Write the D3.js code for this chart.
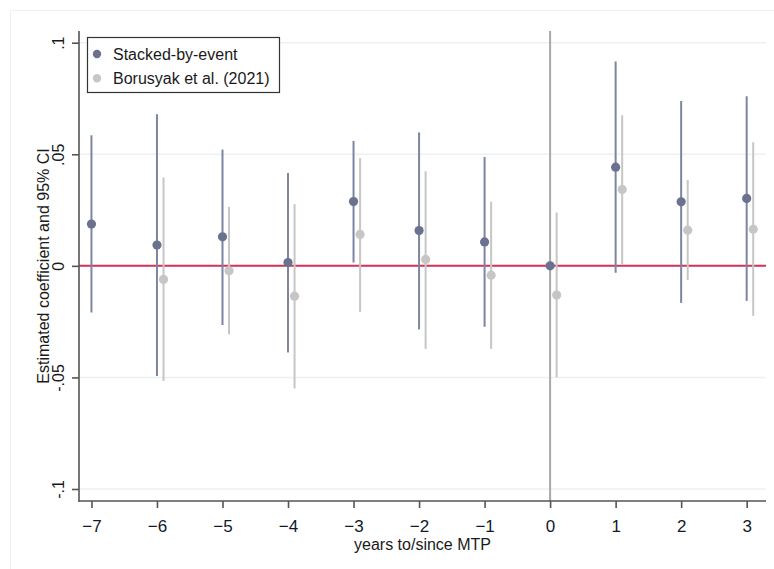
<!DOCTYPE html>
<html>
<head>
<meta charset="utf-8">
<script src="https://cdn.jsdelivr.net/npm/d3@7"></script>
<style>
  html, body { margin: 0; padding: 0; background: #fff; }
  svg { display: block; font-family: "Liberation Sans", Arial, sans-serif; }
</style>
</head>
<body>
<svg id="chart" width="774" height="569"></svg>
<script>
// ---- data ----
const years = [-7, -6, -5, -4, -3, -2, -1, 0, 1, 2, 3];

const stackedCoef = [0.0187, 0.0093, 0.0130, 0.0015, 0.0288, 0.0158, 0.0107, 0.0000, 0.0442, 0.0287, 0.0302];
const stackedLow  = [-0.0209, -0.0494, -0.0265, -0.0388, 0.0015, -0.0285, -0.0273, null, -0.0031, -0.0166, -0.0157];
const stackedHigh = [0.0585, 0.0679, 0.0521, 0.0416, 0.0560, 0.0598, 0.0488, null, 0.0916, 0.0739, 0.0760];

const bjsYears = [-6, -5, -4, -3, -2, -1, 0, 1, 2, 3];
const bjsCoef = [-0.0061, -0.0022, -0.0136, 0.0141, 0.0029, -0.0042, -0.0131, 0.0342, 0.0160, 0.0164];
const bjsLow  = [-0.0516, -0.0307, -0.0549, -0.0206, -0.0372, -0.0372, -0.0500, 0.0006, -0.0064, -0.0224];
const bjsHigh = [0.0396, 0.0264, 0.0276, 0.0483, 0.0424, 0.0288, 0.0239, 0.0675, 0.0385, 0.0554];

const yTicks = [-0.1, -0.05, 0, 0.05, 0.1];
const yTickLabels = ["-.1", "-.05", "0", ".05", ".1"];
const xTicks = years;
const legendLabels = ["Stacked-by-event", "Borusyak et al. (2021)"];
const xTitle = "years to/since MTP";
const yTitle = "Estimated coefficient and 95% CI";

// ---- layout ----
const svg = d3.select("#chart");
const plot = { left: 79, right: 766, top: 31, bottom: 501 };
const x = d3.scaleLinear().domain([-7.19, 3.295]).range([plot.left, plot.right]);
const y = d3.scaleLinear().domain([-0.1, 0.1]).range([489, 42.7]);
const bjsOffset = 0.1;

const colStackLine = "#7d85a1";
const colStackDot = "#6b728f";
const colBjs = "#c6c6c6";

// outer frame
svg.append("rect").attr("x", 10.5).attr("y", 10.5).attr("width", 780).attr("height", 600)
  .attr("fill", "none").attr("stroke", "#eef1f1").attr("stroke-width", 1);

// gridlines
svg.append("g").selectAll("line").data(yTicks.filter(d => d !== 0)).join("line")
  .attr("x1", plot.left).attr("x2", plot.right)
  .attr("y1", d => y(d)).attr("y2", d => y(d))
  .attr("stroke", "#eaf1f1").attr("stroke-width", 1.5);

// vertical reference line at 0
svg.append("line")
  .attr("x1", x(0)).attr("x2", x(0)).attr("y1", plot.top).attr("y2", plot.bottom)
  .attr("stroke", "#a8a8a8").attr("stroke-width", 2);

// horizontal zero line
svg.append("line")
  .attr("x1", plot.left).attr("x2", plot.right).attr("y1", y(0)).attr("y2", y(0))
  .attr("stroke", "#d5305a").attr("stroke-width", 2);

// BJS CIs
const bjs = bjsYears.map((yr, i) => ({ yr, c: bjsCoef[i], lo: bjsLow[i], hi: bjsHigh[i] }));
svg.append("g").selectAll("line").data(bjs).join("line")
  .attr("x1", d => x(d.yr + bjsOffset)).attr("x2", d => x(d.yr + bjsOffset))
  .attr("y1", d => y(d.lo)).attr("y2", d => y(d.hi))
  .attr("stroke", colBjs).attr("stroke-width", 2);

// Stacked CIs
const st = years.map((yr, i) => ({ yr, c: stackedCoef[i], lo: stackedLow[i], hi: stackedHigh[i] }));
svg.append("g").selectAll("line").data(st.filter(d => d.lo !== null)).join("line")
  .attr("x1", d => x(d.yr)).attr("x2", d => x(d.yr))
  .attr("y1", d => y(d.lo)).attr("y2", d => y(d.hi))
  .attr("stroke", colStackLine).attr("stroke-width", 2);

// BJS dots
svg.append("g").selectAll("circle").data(bjs).join("circle")
  .attr("cx", d => x(d.yr + bjsOffset)).attr("cy", d => y(d.c)).attr("r", 4.6)
  .attr("fill", colBjs);

// Stacked dots
svg.append("g").selectAll("circle").data(st).join("circle")
  .attr("cx", d => x(d.yr)).attr("cy", d => y(d.c)).attr("r", 4.6)
  .attr("fill", colStackDot);

// y axis
svg.append("line").attr("x1", plot.left).attr("x2", plot.left)
  .attr("y1", plot.top).attr("y2", plot.bottom + 1)
  .attr("stroke", "#555").attr("stroke-width", 1.6);
const yAxis = d3.axisLeft(y).tickValues(yTicks).tickSize(7).tickFormat((d, i) => yTickLabels[i]);
const yg = svg.append("g").attr("transform", `translate(${plot.left},0)`).call(yAxis);
yg.select(".domain").remove();
yg.selectAll(".tick line").attr("stroke", "#555").attr("stroke-width", 1.6);
yg.selectAll(".tick text")
  .attr("transform", "rotate(-90)")
  .attr("x", 0).attr("y", -15.5).attr("dy", 0)
  .attr("text-anchor", "middle")
  .attr("font-size", 16).attr("fill", "#1a1a1a")
  .style("font-family", "'Liberation Sans', Arial, sans-serif");

// x axis
svg.append("line").attr("x1", plot.left).attr("x2", plot.right)
  .attr("y1", plot.bottom).attr("y2", plot.bottom)
  .attr("stroke", "#555").attr("stroke-width", 1.6);
const xAxis = d3.axisBottom(x).tickValues(xTicks).tickSize(7).tickFormat(d3.format("d"));
const xg = svg.append("g").attr("transform", `translate(0,${plot.bottom})`).call(xAxis);
xg.select(".domain").remove();
xg.selectAll(".tick line").attr("stroke", "#555").attr("stroke-width", 1.6);
xg.selectAll(".tick text")
  .attr("y", 30.5).attr("dy", 0)
  .attr("font-size", 17).attr("fill", "#111a2a")
  .style("font-family", "'Liberation Sans', Arial, sans-serif");

// axis titles
svg.append("text").attr("x", (plot.left + plot.right) / 2).attr("y", 550)
  .attr("text-anchor", "middle").attr("font-size", 16).attr("fill", "#1a1a1a").text(xTitle);
svg.append("text").attr("transform", `translate(48.5,${266}) rotate(-90)`)
  .attr("text-anchor", "middle").attr("font-size", 16).attr("fill", "#1a1a1a").text(yTitle);

// legend
const lg = svg.append("g");
lg.append("rect").attr("x", 87.5).attr("y", 37.5).attr("width", 192).attr("height", 55)
  .attr("fill", "#fff").attr("stroke", "#333").attr("stroke-width", 1.2);
const legColors = [colStackDot, colBjs];
const legY = [54, 78.3];
legendLabels.forEach((lab, i) => {
  lg.append("circle").attr("cx", 97).attr("cy", legY[i]).attr("r", 4.2).attr("fill", legColors[i]);
  lg.append("text").attr("x", 113).attr("y", legY[i] + 5.6)
    .attr("font-size", 16).attr("fill", "#1a1a1a").text(lab);
});
</script>
</body>
</html>
